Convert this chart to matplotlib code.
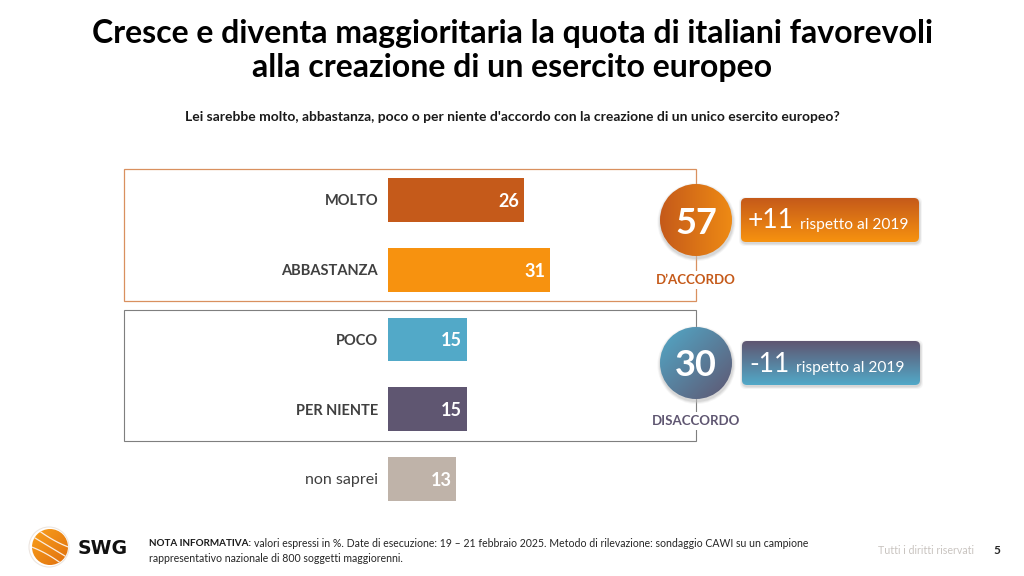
import numpy as np
import matplotlib
matplotlib.use("Agg")
import matplotlib.pyplot as plt
from matplotlib.colors import LinearSegmentedColormap
from matplotlib.patches import Circle, FancyBboxPatch, Rectangle

plt.rcParams['font.family'] = ['Lato', 'DejaVu Sans']

# Data
categories = ["MOLTO", "ABBASTANZA", "POCO", "PER NIENTE", "non saprei"]
values = [26, 31, 15, 15, 13]
bar_colors = ['#C55A1A', '#F7920F', '#52A9C8', '#5F5671', '#BFB3A9']
totals = [57, 30]
total_labels = ["D’ACCORDO", "DISACCORDO"]
deltas = ["+11", "-11"]

W, H = 1024, 576
fig = plt.figure(figsize=(W / 100, H / 100), dpi=100, facecolor='white')

# overlay in pixel coordinates for the slide furniture
bg = fig.add_axes([0, 0, 1, 1])
bg.set_xlim(0, W)
bg.set_ylim(H, 0)
bg.axis('off')

# bar axes: 388px is zero, 5.24 px per point
ax = fig.add_axes([388 / W, 1 - 514 / H, 524 / W, 349 / H])
ax.patch.set_alpha(0)
ax.set_xlim(0, 100)
ax.set_ylim(4.5, -0.5)
ax.axis('off')
bars = ax.barh(range(len(values)), values, height=0.63, color=bar_colors, zorder=3)
for i, (cat, val) in enumerate(zip(categories, values)):
    ax.text(val - 0.9, i + 0.02, str(val), color='white', fontsize=13, fontweight='bold',
            ha='right', va='center', zorder=4)
    bold = cat != "non saprei"
    ax.text(-1.9, i + 0.02, cat, color='#404040', fontsize=10.5 if bold else 11.5, ha='right', va='center',
            fontweight='bold' if bold else 'normal')


def gradient(axes, patch, c1, c2, angle, extent):
    # fill a patch with a linear gradient, clipped to its shape
    cmap = LinearSegmentedColormap.from_list('g', [c1, c2])
    yy, xx = np.mgrid[0:1:120j, 0:1:120j]
    t = xx * np.cos(np.radians(angle)) + yy * np.sin(np.radians(angle))
    im = axes.imshow(t, cmap=cmap, extent=extent, aspect='auto', zorder=patch.get_zorder(),
                     interpolation='bilinear', origin='upper')
    im.set_clip_path(patch)
    axes.set_xlim(0, W)
    axes.set_ylim(H, 0)


# frames
bg.add_patch(Rectangle((124, 169), 572, 132, fill=False, ec='#D9905F', lw=0.9, zorder=1))
bg.add_patch(Rectangle((124, 310), 572, 131, fill=False, ec='#7F7F7F', lw=0.8, zorder=1))

# titles
bg.text(512, 34, "Cresce e diventa maggioritaria la quota di italiani favorevoli",
        fontsize=23, fontweight='bold', ha='center', va='center', color='black')
bg.text(512, 67, "alla creazione di un esercito europeo",
        fontsize=23, fontweight='bold', ha='center', va='center', color='black')
bg.text(512, 117, "Lei sarebbe molto, abbastanza, poco o per niente d'accordo con la creazione di un unico esercito europeo?",
        fontsize=9.96, fontweight='bold', ha='center', va='center', color='#1a1a1a')

# circles and delta boxes
circle_xy = [(696, 220), (696, 363)]
circle_cols = [('#C55A1A', '#EE8A14', 0), ('#52A9C8', '#5F5671', 45)]
box_xy = [(741, 198), (742, 341)]
box_cols = [('#C55A1A', '#F7920F'), ('#5F5671', '#52A9C8')]
label_y = [280, 421]
label_cols = ['#C55A1A', '#5F5671']
rest_x = [800, 796]
for i in range(2):
    cx, cy = circle_xy[i]
    # soft halo under the circle
    for r, a in [(39, 0.15), (38, 0.25), (37, 0.35)]:
        bg.add_patch(Circle((cx + 0.5, cy + 2), r, fc='#BDBDBD', ec='none', alpha=a, zorder=2))
    circ = Circle((cx, cy), 36, fc='none', ec='none', zorder=3)
    bg.add_patch(circ)
    c1, c2, ang = circle_cols[i]
    gradient(bg, circ, c1, c2, ang, (cx - 36, cx + 36, cy + 36, cy - 36))
    bg.text(cx, cy + 3, str(totals[i]), color='white', fontsize=26, fontweight='bold',
            ha='center', va='center', zorder=5)

    bx, by = box_xy[i]
    for p, a in [(2.5, 0.15), (1.5, 0.25), (0.7, 0.35)]:
        bg.add_patch(FancyBboxPatch((bx + 0.5, by + 1.5), 178, 44,
                                    boxstyle=f"round,pad={p},rounding_size=6",
                                    fc='#BDBDBD', ec='none', alpha=a, zorder=2))
    box = FancyBboxPatch((bx, by), 178, 44, boxstyle="round,pad=0,rounding_size=5",
                         fc='none', ec='none', zorder=3)
    bg.add_patch(box)
    c1, c2 = box_cols[i]
    gradient(bg, box, c1, c2, 90, (bx, bx + 178, by + 44, by))
    bg.text(bx + 7, by + 23, deltas[i], color='white', fontsize=19, ha='left', va='center', zorder=5)
    bg.text(rest_x[i], by + 27, "rispetto al 2019", color='white', fontsize=11.2,
            ha='left', va='center', zorder=5)

    bg.text(696, label_y[i], total_labels[i], color=label_cols[i], fontsize=9.5, fontweight='bold',
            ha='center', va='center', zorder=5,
            bbox=dict(fc='white', ec='none', pad=2.5))

# logo
bg.add_patch(Circle((49, 547), 20, fill=False, ec='#EDE6E0', lw=0.8, zorder=2))
logo = Circle((50, 547), 18, fc='none', ec='none', zorder=3)
bg.add_patch(logo)
gradient(bg, logo, '#F9A01B', '#E0700F', 45, (32, 68, 565, 529))
for off in [-9, 0, 9]:
    xs = np.linspace(28, 72, 30)
    ys = 547 + off + (xs - 50) * 0.6 + (xs - 50) ** 2 * 0.006 * np.sign(off)
    ln, = bg.plot(xs, ys, color='#FBEDE0', lw=0.9, zorder=4)
    ln.set_clip_path(logo)
bg.set_xlim(0, W)
bg.set_ylim(H, 0)
bg.text(78, 548, "SWG", fontsize=13.6, fontweight='bold', family='DejaVu Sans', color='#111111',
        ha='left', va='center')

# footer note
bg.text(149, 543.5, "NOTA INFORMATIVA:", fontsize=7.1, fontweight='bold', color='#1a1a1a',
        ha='left', va='center')
bg.text(254, 543.5, "valori espressi in %. Date di esecuzione: 19 – 21 febbraio 2025. Metodo di rilevazione: sondaggio CAWI su un campione",
        fontsize=7.58, color='#262626', ha='left', va='center')
bg.text(149, 558, "rappresentativo nazionale di 800 soggetti maggiorenni.", fontsize=7.6, color='#262626',
        ha='left', va='center')
bg.text(926, 550, "Tutti i diritti riservati", fontsize=7.7, color='#C9C4C0', ha='center', va='center')
bg.text(997, 550, "5", fontsize=8.5, fontweight='bold', color='#262626', ha='center', va='center')

fig.savefig("out.png", dpi=100)
